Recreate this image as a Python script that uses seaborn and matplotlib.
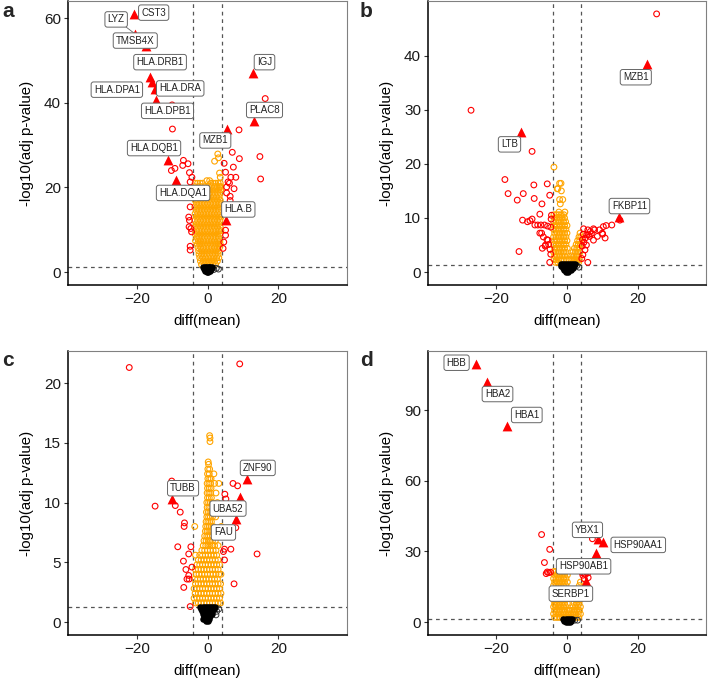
import numpy as np
import pandas as pd
import matplotlib
matplotlib.use("Agg")
import matplotlib.pyplot as plt
import seaborn as sns

sns.set_theme(style="white")
plt.rcParams['font.family'] = ['Liberation Sans', 'DejaVu Sans']

# ---------------- DATA ----------------
# labelled genes (filled red triangles)
a_genes = ["CST3", "LYZ", "TMSB4X", "HLA.DRB1", "HLA.DPA1", "HLA.DRA", "HLA.DPB1",
           "HLA.DQB1", "HLA.DQA1", "IGJ", "PLAC8", "MZB1", "HLA.B"]
a_gene_x = [-20.8, -20.5, -17.4, -16.3, -15.6, -14.8, -14.6, -11.1, -8.9, 12.8, 13.2, 5.6, 5.1]
a_gene_y = [61.0, 56.3, 53.4, 46.1, 44.9, 43.2, 40.7, 26.6, 21.8, 47.1, 35.8, 33.9, 12.2]

b_genes = ["MZB1", "LTB", "FKBP11"]
b_gene_x = [22.7, -13.1, 14.6]
b_gene_y = [38.4, 25.9, 10.1]

c_genes = ["ZNF90", "TUBB", "UBA52", "FAU"]
c_gene_x = [11.1, -10.1, 9.2, 8.0]
c_gene_y = [12.0, 10.3, 10.5, 8.6]

d_genes = ["HBB", "HBA2", "HBA1", "YBX1", "HSP90AA1", "HSP90AB1", "SERBP1"]
d_gene_x = [-25.8, -22.8, -16.9, 8.7, 10.3, 8.1, 5.5]
d_gene_y = [109.7, 102.2, 83.4, 35.4, 34.1, 29.2, 17.5]

# other significant genes with |diff| > 4 (open red circles)
a_red_x = [16.3, -10.0, -9.9, 8.9, 14.8, 15.0, -6.8, -5.5, -9.2, -10.2, -5.1, -4.4, -4.9,
           7.0, 9.0, 4.7, 7.3, 5.1, 6.6, 8.0, 5.8, 6.2, 5.4, 7.5, 5.4, 6.4, 6.4,
           -4.9, -5.1, -4.7, -4.5, -4.9, -4.9, 5.1, 5.1, 4.6, -4.6, -5.3, -5.2, -14.2, -7.0, 4.4]
a_red_y = [41.0, 39.5, 33.8, 33.6, 27.3, 22.0, 26.4, 25.6, 24.5, 24.0, 23.5, 22.4, 21.3,
           28.3, 26.8, 25.7, 24.8, 23.6, 22.4, 22.4, 21.3, 21.0, 20.1, 19.7, 18.7, 16.9, 17.9,
           15.4, 12.2, 10.3, 9.5, 6.1, 5.2, 9.9, 8.7, 7.1, 17.9, 13.0, 10.7, 42.7, 25.2, 5.6]

b_red_x = [25.4, -27.2, -9.9, -17.6, -16.7, -12.4, -14.1, -9.4, -9.3, -5.6, -4.9, -7.1, -13.6,
           -7.7, -9.9, -9.1, -8.3, -7.4, -6.4, -5.5, -4.6, -10.5, -11.2, -12.6, -7.2, -6.7,
           -5.7, -5.2, -6.2, -4.8, -4.6, -4.9, -7.0, -6.1, -5.4, -7.7, -4.4, -4.5,
           4.7, 7.5, 9.2, 10.3, 11.1, 12.7, 15.0, 10.8, 10.1, 5.9, 6.4, 6.9, 7.8, 10.0, 7.5,
           5.5, 5.1, 4.5, 5.9, 4.4, 4.8, 6.1, 5.2, 8.6, 4.3, 4.6, 6.6, 5.6, 4.2]
b_red_y = [47.7, 29.9, 22.3, 17.1, 14.5, 14.5, 13.3, 16.1, 13.6, 16.3, 14.2, 12.6, 3.8,
           10.7, 9.8, 8.7, 8.7, 8.7, 8.7, 8.5, 8.3, 9.5, 9.3, 9.6, 7.2, 6.5,
           6.0, 5.1, 4.8, 4.2, 3.3, 1.8, 4.4, 5.0, 5.9, 7.2, 10.5, 9.8,
           8.0, 8.0, 7.8, 8.4, 8.6, 8.7, 9.6, 6.3, 7.0, 7.8, 6.6, 7.1, 7.8, 7.2, 5.9,
           5.0, 4.1, 3.2, 1.8, 6.0, 5.5, 6.9, 6.3, 6.6, 4.8, 7.0, 7.5, 6.9, 2.5]

c_red_x = [-22.1, 9.1, -14.8, -10.1, -9.1, -7.7, -6.5, -6.6, -8.4, -4.7, -5.3, -6.8, -6.1,
           -4.4, -5.3, -5.2, -5.8, -6.7, -4.9, 7.2, 8.5, 4.9, 5.2, 8.0, 6.6, 4.8, 4.5, 4.8,
           14.0, 7.5]
c_red_y = [21.3, 21.6, 9.7, 11.8, 9.75, 9.2, 8.3, 8.0, 6.3, 6.3, 5.7, 5.1, 4.4,
           4.6, 3.9, 3.6, 3.6, 2.9, 1.3, 11.6, 11.4, 10.7, 10.3, 7.9, 6.1, 6.1, 5.9, 5.2,
           5.7, 3.2]

d_red_x = [-7.2, -4.9, -6.4, -5.6, -5.2, -4.7, -5.9, 7.2, 4.5, 5.2, 5.9, 4.9, 6.0, 5.5, 4.3]
d_red_y = [37.2, 30.9, 25.3, 21.3, 21.0, 21.2, 20.6, 35.4, 19.9, 20.3, 20.9, 18.4, 18.9, 21.3, 21.0]

# significant genes with |diff| <= 4 (open orange circles), rows of (-log10 p, [diff, ...])
a_orange_rows = [
    (21.0, [-3.5, -2.8, -2.1, -1.4, 0.9, 1.6, 2.3, 3.0, 3.6]),
    (20.2, [-3.6, -2.5, -1.8, -0.9, 0.4, 1.2, 2.0, 2.7, 3.4, 3.8]),
    (19.4, [-3.2, -2.2, -1.4, -0.4, 0.6, 1.5, 2.3, 3.1, 3.7]),
    (18.6, [-3.6, -2.8, -2.0, -1.2, -0.3, 0.5, 1.3, 2.1, 2.9, 3.6]),
    (17.8, [-3.2, -2.4, -1.6, -0.8, 0.1, 0.9, 1.7, 2.5, 3.3]),
    (17.0, [-3.5, -2.8, -2.0, -1.2, -0.4, 0.4, 1.2, 2.0, 2.8, 3.6]),
    (16.2, [-3.1, -2.4, -1.6, -0.8, 0.0, 0.8, 1.6, 2.4, 3.2, 3.8]),
    (15.4, [-3.6, -2.8, -2.0, -1.2, -0.4, 0.4, 1.2, 2.0, 2.8, 3.5]),
    (14.6, [-3.2, -2.4, -1.6, -0.8, 0.0, 0.8, 1.6, 2.4, 3.2]),
    (13.8, [-3.5, -2.8, -2.0, -1.2, -0.4, 0.4, 1.2, 2.0, 2.8, 3.6]),
    (13.0, [-3.1, -2.4, -1.6, -0.8, 0.0, 0.8, 1.6, 2.4, 3.2, 3.8]),
    (12.2, [-3.6, -2.8, -2.0, -1.2, -0.4, 0.4, 1.2, 2.0, 2.8, 3.5]),
    (11.4, [-3.2, -2.4, -1.6, -0.8, 0.0, 0.8, 1.6, 2.4, 3.2]),
    (10.6, [-3.6, -2.8, -2.0, -1.2, -0.4, 0.4, 1.2, 2.0, 2.8, 3.6]),
    (9.8, [-3.1, -2.4, -1.6, -0.8, 0.0, 0.8, 1.6, 2.4, 3.2, 3.8]),
    (9.0, [-3.5, -2.8, -2.0, -1.2, -0.4, 0.4, 1.2, 2.0, 2.8, 3.4]),
    (8.2, [-3.0, -2.4, -1.6, -0.8, 0.0, 0.8, 1.6, 2.4, 3.1]),
    (7.4, [-3.4, -2.6, -2.0, -1.2, -0.4, 0.4, 1.2, 2.0, 2.8, 3.5]),
    (6.6, [-2.9, -2.2, -1.6, -0.8, 0.0, 0.8, 1.6, 2.4, 3.0, 3.6]),
    (5.8, [-2.7, -1.9, -1.2, -0.4, 0.4, 1.2, 2.0, 2.7, 3.4]),
    (5.0, [-2.5, -1.6, -0.8, 0.0, 0.8, 1.6, 2.4, 3.1]),
    (4.2, [-2.4, -1.7, -1.0, -0.2, 0.6, 1.4, 2.2, 3.0]),
    (3.4, [-2.2, -1.4, -0.6, 0.2, 1.0, 1.8, 2.6, 3.2]),
    (2.6, [-2.0, -1.2, -0.4, 0.4, 1.2, 2.0, 2.8]),
    (1.8, [-1.7, -0.9, -0.1, 0.7, 1.5, 2.3]),
    (27.9, [2.9]), (27.0, [3.1]), (26.2, [2.0]), (23.4, [3.4]), (22.4, [3.6]),
    (21.6, [-0.2, 0.6]),
]

b_orange_rows = [
    (10.6, [-3.7, -3.0, -2.3, -1.6, -0.9]),
    (10.0, [-3.5, -2.8, -2.1, -1.4, -0.7]),
    (9.3, [-3.8, -3.1, -2.4, -1.7, -1.0, -0.4]),
    (8.6, [-3.5, -2.8, -2.1, -1.4, -0.7, 0.0]),
    (7.9, [-3.8, -3.1, -2.4, -1.7, -1.0, -0.3]),
    (7.2, [-3.5, -2.8, -2.1, -1.4, -0.7, 0.0, 3.7]),
    (6.5, [-3.8, -3.1, -2.4, -1.7, -1.0, -0.3, 3.4, 3.9]),
    (5.8, [-3.5, -2.8, -2.1, -1.4, -0.7, 0.0, 3.0, 3.6]),
    (5.1, [-3.8, -3.1, -2.4, -1.7, -1.0, -0.3, 2.6, 3.2, 3.8]),
    (4.4, [-3.5, -2.8, -2.1, -1.4, -0.7, 0.1, 2.1, 2.8, 3.4]),
    (3.7, [-3.8, -3.1, -2.4, -1.7, -1.0, -0.3, 1.7, 2.4, 3.0, 3.7]),
    (3.0, [-3.5, -2.8, -2.1, -1.4, -0.7, 0.1, 1.3, 2.0, 2.6, 3.3]),
    (2.3, [-3.7, -3.0, -2.3, -1.6, -0.9, -0.2, 0.5, 1.1, 1.7, 2.3, 2.9, 3.5]),
    (1.8, [-3.3, -2.6, 2.6, 3.3]),
    (19.4, [-3.7]), (16.4, [-1.7, -2.1]), (15.4, [-2.8, -2.6]), (15.0, [-1.6]),
    (13.4, [-2.1, -1.2]), (12.6, [-1.9]), (11.1, [-2.3, -0.6]),
]

c_orange_rows = [
    (13.2, [0.3]), (12.8, [0.1, 0.6]), (12.4, [0.0, 0.5, 1.8]), (12.0, [0.1, 0.6, 1.0]),
    (11.6, [-0.1, 0.4, 0.9, 2.0, 3.2]), (11.2, [0.0, 0.5, 1.0]),
    (10.8, [-0.1, 0.4, 0.9, 2.4]), (10.4, [0.0, 0.5, 1.1]),
    (10.0, [-0.2, 0.3, 0.8, 1.3, 2.8]), (9.6, [-0.1, 0.4, 0.9]),
    (9.2, [-0.3, 0.2, 0.7, 1.2]), (8.8, [-0.2, 0.3, 0.8, 1.4, 2.3]),
    (8.4, [-0.4, 0.1, 0.6, 1.1]), (8.0, [-3.6, -0.5, 0.0, 0.5, 1.0, 1.6, 3.9]),
    (7.6, [-0.6, -0.1, 0.4, 0.9, 1.5]), (7.2, [-0.8, -0.2, 0.3, 0.8, 1.4, 2.0]),
    (6.8, [-1.0, -0.4, 0.2, 0.8, 1.4, 2.2]), (6.4, [-1.2, -0.5, 0.1, 0.7, 1.3, 2.0, 3.0]),
    (6.0, [-1.6, -0.8, 0.0, 0.8, 1.6, 2.4]),
    (5.6, [-3.4, -2.2, -1.4, -0.6, 0.2, 1.0, 1.8, 2.6]),
    (5.2, [-2.6, -1.8, -1.0, -0.2, 0.6, 1.4, 2.2, 3.0]),
    (4.8, [-3.0, -2.2, -1.4, -0.6, 0.2, 1.0, 1.8, 2.6, 3.4]),
    (4.4, [-3.4, -2.6, -1.8, -1.0, -0.2, 0.6, 1.4, 2.2, 3.0]),
    (4.0, [-3.2, -2.4, -1.6, -0.8, 0.0, 0.8, 1.6, 2.4, 3.2, 3.8]),
    (3.6, [-3.6, -2.8, -2.0, -1.2, -0.4, 0.4, 1.2, 2.0, 2.8]),
    (3.2, [-3.4, -2.6, -1.8, -1.0, -0.2, 0.6, 1.4, 2.2, 3.0, 3.7]),
    (2.8, [-3.8, -3.0, -2.2, -1.4, -0.6, 0.2, 1.0, 1.8, 2.6, 3.4]),
    (2.4, [-3.5, -2.6, -1.8, -1.0, -0.2, 0.6, 1.4, 2.2, 3.0, 3.8]),
    (2.0, [-3.8, -3.0, -2.2, -1.4, -0.6, 0.2, 1.0, 1.8, 2.6, 3.4]),
    (1.6, [-3.4, -2.6, -1.8, -1.0, -0.2, 0.6, 1.4, 2.2, 3.0, 3.7]),
    (15.6, [0.6]), (15.4, [0.7]), (15.1, [0.7]), (13.4, [0.2]),
]

d_orange_rows = [
    (21.5, [-3.8, -3.1, -2.4, -1.7, -1.0, -0.3]),
    (20.0, [-3.5, -2.8, -2.1, -1.4, -0.7, 0.1]),
    (18.5, [-3.8, -3.1, -2.4, -1.7, -1.0, -0.3]),
    (17.0, [-3.5, -2.8, -2.1, -1.4, -0.7, 0.1, 3.8]),
    (15.5, [-3.8, -3.1, -2.4, -1.7, -1.0, -0.3, 3.5]),
    (14.0, [-3.5, -2.8, -2.1, -1.4, -0.7, 0.1, 3.2, 3.9]),
    (12.5, [-3.8, -3.1, -2.4, -1.7, -1.0, -0.3, 2.9, 3.6]),
    (11.0, [-3.5, -2.8, -2.1, -1.4, -0.7, 0.1, 2.6, 3.3, 3.9]),
    (9.5, [-3.8, -3.1, -2.4, -1.7, -1.0, -0.3, 2.3, 3.0, 3.7]),
    (8.0, [-3.5, -2.8, -2.1, -1.4, -0.7, 0.1, 2.0, 2.7, 3.4]),
    (6.5, [-3.8, -3.1, -2.4, -1.7, -1.0, -0.3, 1.7, 2.4, 3.1, 3.8]),
    (5.0, [-3.5, -2.8, -2.1, -1.4, -0.7, 0.1, 0.7, 1.4, 2.1, 2.8, 3.5]),
    (3.5, [-3.8, -3.1, -2.4, -1.7, -1.0, -0.3, 0.4, 1.1, 1.8, 2.5, 3.2, 3.8]),
    (2.0, [-3.5, -2.8, -2.1, -1.4, -0.7, 0.1, 0.6, 1.2, 1.9, 2.6, 3.3]),
    (7.2, [-3.4]), (10.3, [-3.6]),
]

# non-significant genes (black), rows of (-log10 p, [diff, ...])
a_black_rows = [(1.1, [-1.2, -0.8, -0.4, 0.0, 0.4, 0.8, 1.2]),
                (0.7, [-1.0, -0.6, -0.2, 0.2, 0.6, 1.0]),
                (0.3, [-0.6, -0.2, 0.2, 0.6]), (0.0, [-0.2, 0.2])]
b_black_rows = [(1.5, [-1.8, -1.2, -0.6, 0.0, 0.6, 1.2, 1.8, 2.3]),
                (1.1, [-1.6, -1.0, -0.4, 0.2, 0.8, 1.4, 2.0]),
                (0.7, [-1.2, -0.6, 0.0, 0.6, 1.2, 1.7]),
                (0.35, [-0.8, -0.2, 0.4, 1.0]), (0.0, [-0.3, 0.3])]
c_black_rows = [(1.3, [-2.0, -1.4, -0.8, -0.2, 0.4, 1.0, 1.6, 2.2]),
                (1.1, [-1.8, -1.2, -0.6, 0.0, 0.6, 1.2, 1.8]),
                (0.9, [-1.6, -1.0, -0.4, 0.2, 0.8, 1.4]),
                (0.7, [-1.2, -0.6, 0.0, 0.6, 1.2]),
                (0.5, [-1.0, -0.4, 0.2, 0.8]),
                (0.3, [-1.4, -0.8, -0.2, 0.4]),
                (0.1, [-0.4, 0.2])]
d_black_rows = [(1.2, [-1.0, -0.4, 0.2, 0.8, 1.4]),
                (0.6, [-0.8, -0.2, 0.4, 1.0]),
                (0.0, [-0.4, 0.2, 0.8])]
# open dark circles at the edge of the black cloud
a_edge_x = [1.8, 2.5, 3.1]
a_edge_y = [0.6, 0.9, 0.7]
b_edge_x = [2.8, 3.4]
b_edge_y = [1.2, 0.9]
c_edge_x = [2.6, 3.2, 2.4]
c_edge_y = [0.9, 1.1, 0.6]
d_edge_x = [2.2, 3.0]
d_edge_y = [0.8, 0.8]

x_ticks = [-20, 0, 20]
a_y_ticks = [0, 20, 40, 60]
b_y_ticks = [0, 10, 20, 30, 40]
c_y_ticks = [0, 5, 10, 15, 20]
d_y_ticks = [0, 30, 60, 90]
fc_cut = 4
p_cut = 1.3

# label placement (text box centres) and which labels get a connector
a_lab_x = [-15.2, -25.8, -20.4, -13.4, -25.6, -7.7, -11.3, -15.1, -6.9, 16.1, 16.1, 2.2, 8.7]
a_lab_y = [61.3, 59.7, 54.7, 49.6, 43.1, 43.4, 38.1, 29.3, 18.7, 49.6, 38.3, 31.1, 14.8]
a_seg = [False, True, True, False, False, False, False, False, False, False, False, False, False]
b_lab_x = [19.5, -16.3, 17.7]
b_lab_y = [36.0, 23.6, 12.2]
c_lab_x = [14.2, -6.9, 5.8, 4.5]
c_lab_y = [12.9, 11.2, 9.5, 7.5]
d_lab_x = [-31.3, -19.7, -11.4, 5.8, 20.2, 4.7, 1.1]
d_lab_y = [110.2, 96.9, 88.0, 39.2, 32.8, 23.7, 12.1]


def rows_to_df(rows):
    xs, ys = [], []
    for yv, xl in rows:
        for xv in xl:
            xs.append(xv)
            ys.append(yv)
    return pd.DataFrame({"x": xs, "y": ys})


panels = [
    dict(letter="a", genes=a_genes, gx=a_gene_x, gy=a_gene_y, rx=a_red_x, ry=a_red_y,
         orange=a_orange_rows, black=a_black_rows, ex=a_edge_x, ey=a_edge_y,
         yt=a_y_ticks, lx=a_lab_x, ly=a_lab_y, seg=a_seg,
         pos=[68 / 708, 1 - 285 / 680, 279 / 708, 284 / 680], lpos=(2 / 708, 1 - 17 / 680)),
    dict(letter="b", genes=b_genes, gx=b_gene_x, gy=b_gene_y, rx=b_red_x, ry=b_red_y,
         orange=b_orange_rows, black=b_black_rows, ex=b_edge_x, ey=b_edge_y,
         yt=b_y_ticks, lx=b_lab_x, ly=b_lab_y, seg=[False] * 3,
         pos=[428 / 708, 1 - 285 / 680, 278 / 708, 284 / 680], lpos=(360 / 708, 1 - 17 / 680)),
    dict(letter="c", genes=c_genes, gx=c_gene_x, gy=c_gene_y, rx=c_red_x, ry=c_red_y,
         orange=c_orange_rows, black=c_black_rows, ex=c_edge_x, ey=c_edge_y,
         yt=c_y_ticks, lx=c_lab_x, ly=c_lab_y, seg=[False] * 4,
         pos=[68 / 708, 1 - 635 / 680, 279 / 708, 284 / 680], lpos=(2 / 708, 1 - 366 / 680)),
    dict(letter="d", genes=d_genes, gx=d_gene_x, gy=d_gene_y, rx=d_red_x, ry=d_red_y,
         orange=d_orange_rows, black=d_black_rows, ex=d_edge_x, ey=d_edge_y,
         yt=d_y_ticks, lx=d_lab_x, ly=d_lab_y, seg=[False] * 7,
         pos=[428 / 708, 1 - 635 / 680, 278 / 708, 284 / 680], lpos=(360 / 708, 1 - 366 / 680)),
]

fig = plt.figure(figsize=(7.08, 6.8), dpi=100)
ORANGE = "#FFA500"
RED = "#FF0000"

for p in panels:
    ax = fig.add_axes(p["pos"])
    od = rows_to_df(p["orange"])
    bd = rows_to_df(p["black"])
    rd = pd.DataFrame({"x": p["rx"], "y": p["ry"]})
    gd = pd.DataFrame({"x": p["gx"], "y": p["gy"], "gene": p["genes"]})
    ed = pd.DataFrame({"x": p["ex"], "y": p["ey"]})

    sns.scatterplot(data=od, x="x", y="y", ax=ax, marker="o", s=17,
                    facecolors="none", edgecolor=ORANGE, linewidth=0.8, zorder=2)
    sns.scatterplot(data=rd, x="x", y="y", ax=ax, marker="o", s=17,
                    facecolors="none", edgecolor=RED, linewidth=0.8, zorder=3)
    sns.scatterplot(data=ed, x="x", y="y", ax=ax, marker="o", s=17,
                    facecolors="none", edgecolor="#333333", linewidth=0.7, zorder=3)
    sns.scatterplot(data=bd, x="x", y="y", ax=ax, marker="o", s=22,
                    color="black", linewidth=0, zorder=4)
    sns.scatterplot(data=gd, x="x", y="y", ax=ax, marker="^", s=50,
                    color=RED, linewidth=0, zorder=5)

    ax.axvline(-fc_cut, color="#555555", lw=0.9, ls=(0, (3, 3)), zorder=1)
    ax.axvline(fc_cut, color="#555555", lw=0.9, ls=(0, (3, 3)), zorder=1)
    ax.axhline(p_cut, color="#555555", lw=0.9, ls=(0, (3, 3)), zorder=1)

    for i, g in enumerate(p["genes"]):
        if p["seg"][i]:
            ax.plot([p["gx"][i], p["lx"][i]], [p["gy"][i], p["ly"][i]],
                    color="#666666", lw=0.6, zorder=6)
        ax.text(p["lx"][i], p["ly"][i], g, ha="center", va="center", fontsize=7,
                color="#222222", zorder=7,
                bbox=dict(boxstyle="round,pad=0.28,rounding_size=0.25", fc="white",
                          ec="#666666", lw=0.7))

    ymax = max(max(p["gy"]), max(p["ry"]), max(y for y, _ in p["orange"]))
    ax.set_ylim(-0.05 * ymax, ymax * 1.05)
    ax.set_xlim(-39.4, 39.4)
    ax.set_xticks(x_ticks)
    ax.set_yticks(p["yt"])
    ax.set_xlabel("diff(mean)", fontsize=10.8, labelpad=6, color="black")
    ax.set_ylabel("-log10(adj p-value)", fontsize=10.8, labelpad=7, color="black")
    ax.tick_params(axis="both", which="major", direction="out", length=3, width=0.8,
                   color="#333333", labelsize=11, labelcolor="#1a1a1a", pad=2,
                   bottom=True, left=True)
    for side in ["left", "bottom"]:
        ax.spines[side].set_color("black")
        ax.spines[side].set_linewidth(1.1)
    for side in ["top", "right"]:
        ax.spines[side].set_color("#808080")
        ax.spines[side].set_linewidth(0.8)
    ax.grid(False)
    fig.text(p["lpos"][0], p["lpos"][1], p["letter"], fontsize=15, fontweight="bold",
             va="baseline", ha="left")

fig.savefig("out.png", dpi=100)
